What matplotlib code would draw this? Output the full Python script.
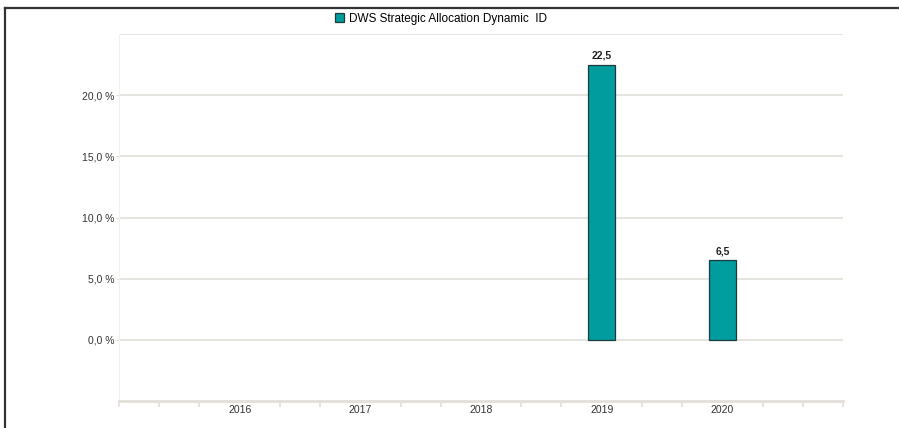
import matplotlib
matplotlib.use("Agg")
import matplotlib.pyplot as plt
from matplotlib.lines import Line2D
import numpy as np

plt.rcParams["font.family"] = ["Liberation Sans", "DejaVu Sans"]

# data
years = [2016, 2017, 2018, 2019, 2020]
values = [None, None, None, 22.5, 6.5]
series_name = "DWS Strategic Allocation Dynamic  ID"
yticks = [0, 5, 10, 15, 20]

bar_color = "#009c9e"
grid_color = "#e2dfd8"

fig = plt.figure(figsize=(8.99, 4.28), dpi=100)
ax = fig.add_axes([119 / 899, 1 - 401 / 428, (843 - 119) / 899, (401 - 34) / 428])

xs = [y for y, v in zip(years, values) if v is not None]
vs = [v for v in values if v is not None]
bars = ax.bar(xs, vs, width=0.225, color=bar_color, edgecolor="#1d3b3b",
              linewidth=0.9, zorder=3, label=series_name)
for x, v in zip(xs, vs):
    ax.text(x, v + 0.35, f"{v:.1f}".replace(".", ","), ha="center", va="bottom",
            fontsize=7.5, fontweight="bold", color="#222222")

ax.set_xlim(years[0] - 1, years[-1] + 1)
ax.set_ylim(-5, 25)

# gridlines incl. top line
for g in yticks + [25]:
    ax.axhline(g, color=grid_color, lw=1.2, zorder=1)

ax.set_yticks(yticks)
ax.set_yticklabels([f"{t:.1f} %".replace(".", ",") for t in yticks])
ax.tick_params(axis="y", length=2, color=grid_color, labelsize=7.5, labelcolor="#333333", pad=1.5)

ax.set_xticks(years)
ax.set_xticklabels([str(y) for y in years])
ax.set_xticks(np.arange(years[0] - 1, years[-1] + 1.01, 1 / 3), minor=True)
ax.tick_params(axis="x", which="major", length=0, labelsize=7.5, labelcolor="#333333", pad=3)
ax.tick_params(axis="x", which="minor", length=4, width=1.2, color=grid_color)

for s in ["top", "right"]:
    ax.spines[s].set_visible(False)
ax.spines["bottom"].set_color(grid_color)
ax.spines["bottom"].set_linewidth(2)
ax.spines["left"].set_color("#f3f1ec")
ax.spines["left"].set_linewidth(0.8)

leg = fig.legend(handles=[bars], labels=[series_name], loc="center",
                 bbox_to_anchor=(441 / 899, 1 - 19 / 428), frameon=False,
                 fontsize=8.5, handlelength=0.8, handleheight=0.8, handletextpad=0.4)

# outer frame (left and top edges)
fig.add_artist(Line2D([5 / 899, 5 / 899], [0, 1 - 8 / 428], color="#333333", lw=1.6))
fig.add_artist(Line2D([5 / 899, 1], [1 - 8 / 428, 1 - 8 / 428], color="#333333", lw=1.6))

fig.savefig("out.png", dpi=100)
